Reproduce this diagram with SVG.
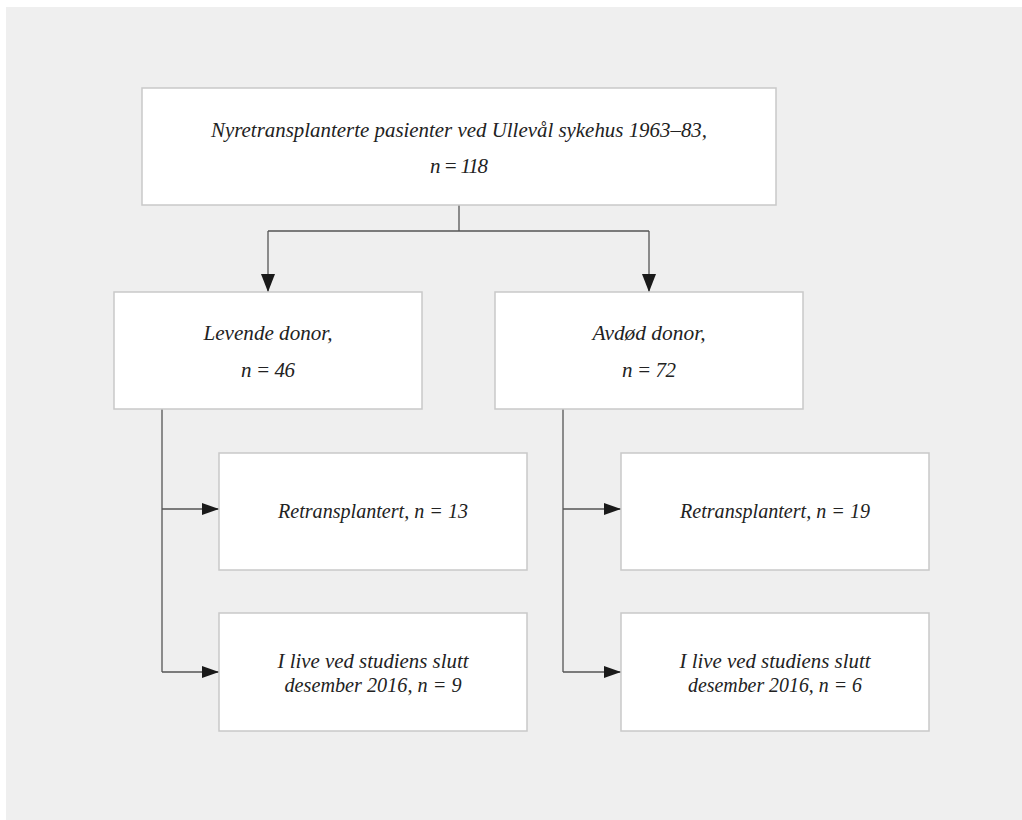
<svg xmlns="http://www.w3.org/2000/svg" width="1022" height="820" viewBox="0 0 1022 820">
<defs>
<style>
.box{fill:#ffffff;stroke:#c9c9c9;stroke-width:1.5}
.t{font-family:"Liberation Serif","DejaVu Serif",serif;font-style:italic;font-size:21px;fill:#222;text-anchor:middle}
.ln{fill:none;stroke:#555;stroke-width:1.3}
</style>
<marker id="ahd" viewBox="0 0 18 14" refX="18" refY="7" markerWidth="18" markerHeight="14" markerUnits="userSpaceOnUse" orient="auto">
<path d="M0,0 L18,7 L0,14 z" fill="#1a1a1a"/>
</marker>
<marker id="ahr" viewBox="0 0 17 12" refX="17" refY="6" markerWidth="17" markerHeight="12" markerUnits="userSpaceOnUse" orient="auto">
<path d="M0,0 L17,6 L0,12 z" fill="#1a1a1a"/>
</marker>
</defs>
<rect x="0" y="0" width="1022" height="820" fill="#ffffff"/>
<rect x="6" y="7" width="1016" height="813" fill="#efefef"/>
<g id="connectors">
<path class="ln" d="M459,205 V231 M268,231 H649"/>
<path class="ln" d="M268,231 V292" marker-end="url(#ahd)"/>
<path class="ln" d="M649,231 V292" marker-end="url(#ahd)"/>
<path class="ln" d="M162,409 V672"/>
<path class="ln" d="M162,509 H219" marker-end="url(#ahr)"/>
<path class="ln" d="M162,672 H219" marker-end="url(#ahr)"/>
<path class="ln" d="M563,409 V672"/>
<path class="ln" d="M563,509 H621" marker-end="url(#ahr)"/>
<path class="ln" d="M563,672 H621" marker-end="url(#ahr)"/>
</g>
<g id="node-top">
<rect class="box" x="142" y="88" width="634" height="117"/>
<text class="t" x="459" y="137" textLength="496" lengthAdjust="spacingAndGlyphs">Nyretransplanterte pasienter ved Ullevål sykehus 1963–83,</text>
<text class="t" x="459" y="173" textLength="58" lengthAdjust="spacing">n = 118</text>
</g>
<g id="node-levende">
<rect class="box" x="114" y="292" width="308" height="117"/>
<text class="t" x="268" y="340" textLength="129" lengthAdjust="spacingAndGlyphs">Levende donor,</text>
<text class="t" x="268" y="377" textLength="54" lengthAdjust="spacing">n = 46</text>
</g>
<g id="node-avdod">
<rect class="box" x="495" y="292" width="308" height="117"/>
<text class="t" x="649" y="340" textLength="113" lengthAdjust="spacingAndGlyphs">Avdød donor,</text>
<text class="t" x="649" y="377" textLength="54" lengthAdjust="spacing">n = 72</text>
</g>
<g id="node-retrans-l">
<rect class="box" x="219" y="453" width="308" height="117"/>
<text class="t" x="373" y="518" textLength="190" lengthAdjust="spacingAndGlyphs">Retransplantert, n = 13</text>
</g>
<g id="node-live-l">
<rect class="box" x="219" y="613" width="308" height="118"/>
<text class="t" x="373" y="668" textLength="191" lengthAdjust="spacingAndGlyphs">I live ved studiens slutt</text>
<text class="t" x="373" y="692" textLength="177" lengthAdjust="spacingAndGlyphs">desember 2016,  n = 9</text>
</g>
<g id="node-retrans-r">
<rect class="box" x="621" y="453" width="308" height="117"/>
<text class="t" x="775" y="518" textLength="190" lengthAdjust="spacingAndGlyphs">Retransplantert, n = 19</text>
</g>
<g id="node-live-r">
<rect class="box" x="621" y="613" width="308" height="118"/>
<text class="t" x="775" y="668" textLength="191" lengthAdjust="spacingAndGlyphs">I live ved studiens slutt</text>
<text class="t" x="775" y="692" textLength="174" lengthAdjust="spacingAndGlyphs">desember 2016, n = 6</text>
</g>
</svg>
